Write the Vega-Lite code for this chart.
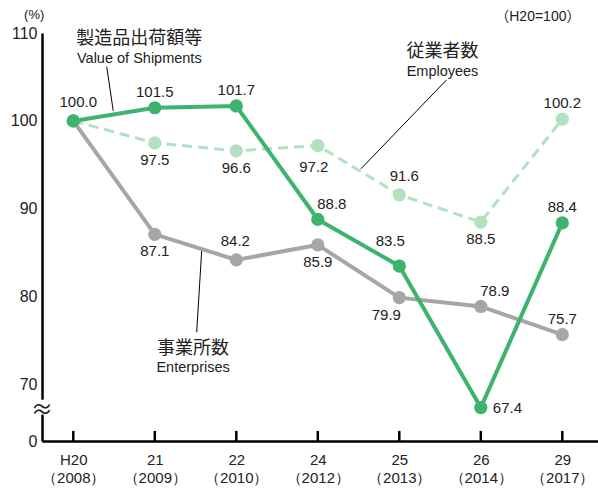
{
  "$schema": "https://vega.github.io/schema/vega-lite/v6.json",
  "width": 556,
  "height": 408,
  "autosize": {"type": "none"},
  "padding": {"left": 42, "top": 33, "right": 0, "bottom": 50},
  "background": "white",
  "config": {"view": {"stroke": null}, "font": "Liberation Sans"},
  "datasets": {
    "series": [
      {"series": "employees", "id": "emp0", "pos": 0, "value": 100.0},
      {"series": "employees", "id": "emp1", "pos": 1, "value": 97.5},
      {"series": "employees", "id": "emp2", "pos": 2, "value": 96.6},
      {"series": "employees", "id": "emp3", "pos": 3, "value": 97.2},
      {"series": "employees", "id": "emp4", "pos": 4, "value": 91.6},
      {"series": "employees", "id": "emp5", "pos": 5, "value": 88.5},
      {"series": "employees", "id": "emp6", "pos": 6, "value": 100.2},
      {"series": "enterprises", "id": "ent0", "pos": 0, "value": 100.0},
      {"series": "enterprises", "id": "ent1", "pos": 1, "value": 87.1},
      {"series": "enterprises", "id": "ent2", "pos": 2, "value": 84.2},
      {"series": "enterprises", "id": "ent3", "pos": 3, "value": 85.9},
      {"series": "enterprises", "id": "ent4", "pos": 4, "value": 79.9},
      {"series": "enterprises", "id": "ent5", "pos": 5, "value": 78.9},
      {"series": "enterprises", "id": "ent6", "pos": 6, "value": 75.7},
      {"series": "shipments", "id": "ship0", "pos": 0, "value": 100.0},
      {"series": "shipments", "id": "ship1", "pos": 1, "value": 101.5},
      {"series": "shipments", "id": "ship2", "pos": 2, "value": 101.7},
      {"series": "shipments", "id": "ship3", "pos": 3, "value": 88.8},
      {"series": "shipments", "id": "ship4", "pos": 4, "value": 83.5},
      {"series": "shipments", "id": "ship5", "pos": 5, "value": 67.4},
      {"series": "shipments", "id": "ship6", "pos": 6, "value": 88.4}
    ],
    "yticks": [
      {"value": 70}, {"value": 80}, {"value": 90}, {"value": 100}, {"value": 110}
    ],
    "axisbreak": [
      {"pos": -0.384, "value": 67.1, "top": 68.3, "bottom": 66.6}
    ],
    "notes": [
      {"kind": "jp", "pos": 0.81, "value": 109.3, "text": "製造品出荷額等"},
      {"kind": "en", "pos": 0.81, "value": 107.1, "text": "Value of Shipments"},
      {"kind": "jp", "pos": 4.53, "value": 107.8, "text": "従業者数"},
      {"kind": "en", "pos": 4.53, "value": 105.6, "text": "Employees"},
      {"kind": "jp", "pos": 1.47, "value": 74.1, "text": "事業所数"},
      {"kind": "en", "pos": 1.47, "value": 71.9, "text": "Enterprises"},
      {"kind": "unit", "pos": -0.48, "value": 112.0, "text": "(%)"},
      {"kind": "base", "pos": 5.70, "value": 111.85, "text": "（H20=100）"}
    ],
    "leaders": [
      {"name": "ship", "pos": 0.41, "value": 106.18},
      {"name": "ship", "pos": 0.49, "value": 101.16},
      {"name": "emp", "pos": 4.58, "value": 104.67},
      {"name": "emp", "pos": 3.53, "value": 94.56},
      {"name": "ent", "pos": 1.575, "value": 85.22},
      {"name": "ent", "pos": 1.514, "value": 75.97}
    ]
  },
  "encoding": {
    "x": {
      "field": "pos",
      "type": "quantitative",
      "scale": {"domain": [-0.384, 6.438], "nice": false, "zero": false},
      "axis": {
        "values": [0, 1, 2, 3, 4, 5, 6],
        "title": null,
        "grid": false,
        "zindex": 0,
        "domainColor": "black",
        "domainWidth": 2.5,
        "ticks": false,
        "labelFont": "Liberation Sans",
        "labelFontSize": 15,
        "labelColor": "#222",
        "labelLineHeight": 18,
        "labelPadding": 11,
        "labelBaseline": "top",
        "labelExpr": "[['H20','（2008）'],['21','（2009）'],['22','（2010）'],['24','（2012）'],['25','（2013）'],['26','（2014）'],['29','（2017）']][datum.value]"
      }
    },
    "y": {
      "field": "value",
      "type": "quantitative",
      "scale": {"domain": [63.6, 110], "nice": false, "zero": false},
      "axis": {
        "values": [63.6, 70, 80, 90, 100, 110],
        "title": null,
        "grid": false,
        "zindex": 0,
        "domainColor": "black",
        "domainWidth": 2.5,
        "ticks": false,
        "labelFont": "Liberation Sans",
        "labelFontSize": 16,
        "labelColor": "#222",
        "labelPadding": 5,
        "labelExpr": "datum.value < 65 ? '0' : format(datum.value, 'd')"
      }
    }
  },
  "layer": [
    {
      "mark": {"type": "rule", "color": "#777", "strokeWidth": 1.2},
      "encoding": {
        "x": {"datum": -0.384, "type": "quantitative"},
        "x2": {"datum": 6.18},
        "y": {"datum": 100, "type": "quantitative"}
      }
    },
    {
      "data": {"name": "series"},
      "transform": [{"filter": "datum.series == 'shipments'"}],
      "mark": {"type": "rule", "color": "black", "strokeWidth": 2.5},
      "encoding": {
        "y": {"datum": 63.6, "type": "quantitative"},
        "y2": {"datum": 64.75}
      }
    },
    {
      "data": {"name": "yticks"},
      "mark": {"type": "rule", "color": "black", "strokeWidth": 2.5},
      "encoding": {
        "x": {"datum": -0.384, "type": "quantitative"},
        "x2": {"datum": -0.236}
      }
    },
    {
      "data": {"name": "axisbreak"},
      "mark": {"type": "rule", "color": "white", "strokeWidth": 8},
      "encoding": {
        "y": {"field": "top", "type": "quantitative"},
        "y2": {"field": "bottom"}
      }
    },
    {
      "data": {"name": "axisbreak"},
      "mark": {"type": "text", "font": "Noto Sans CJK JP", "fontSize": 22, "color": "#222", "align": "center", "baseline": "middle", "text": "≈"}
    },
    {
      "data": {"name": "leaders"},
      "mark": {"type": "line", "color": "black", "strokeWidth": 1},
      "encoding": {"detail": {"field": "name"}}
    },
    {
      "data": {"name": "series"},
      "transform": [{"filter": "datum.series == 'employees'"}],
      "mark": {"type": "line", "color": "#b3e0bf", "strokeWidth": 3, "strokeDash": [10, 6]},
      "encoding": {}
    },
    {
      "data": {"name": "series"},
      "transform": [{"filter": "datum.series == 'enterprises'"}],
      "mark": {"type": "line", "color": "#a6a6a6", "strokeWidth": 4},
      "encoding": {}
    },
    {
      "data": {"name": "series"},
      "transform": [{"filter": "datum.series == 'shipments'"}],
      "mark": {"type": "line", "color": "#3db46e", "strokeWidth": 4},
      "encoding": {}
    },
    {
      "data": {"name": "series"},
      "mark": {"type": "circle", "size": 175, "opacity": 1},
      "encoding": {
        "color": {
          "field": "series",
          "type": "nominal",
          "scale": {"domain": ["employees", "enterprises", "shipments"], "range": ["#b3e0bf", "#a6a6a6", "#3db46e"]},
          "legend": null
        }
      }
    },
    {
      "data": {"name": "series"},
      "transform": [{"filter": "indexof(['ship1','ship2','ship6','emp6','ent6'], datum.id) >= 0"}],
      "mark": {"type": "text", "fontSize": 15, "color": "#222", "dy": -16},
      "encoding": {"text": {"field": "value", "format": ".1f"}}
    },
    {
      "data": {"name": "series"},
      "transform": [{"filter": "indexof(['ship0','emp4'], datum.id) >= 0"}],
      "mark": {"type": "text", "fontSize": 15, "color": "#222", "dx": 5, "dy": -19},
      "encoding": {"text": {"field": "value", "format": ".1f"}}
    },
    {
      "data": {"name": "series"},
      "transform": [{"filter": "datum.id == 'ent2'"}],
      "mark": {"type": "text", "fontSize": 15, "color": "#222", "dx": -1, "dy": -19},
      "encoding": {"text": {"field": "value", "format": ".1f"}}
    },
    {
      "data": {"name": "series"},
      "transform": [{"filter": "indexof(['ship3','ent5'], datum.id) >= 0"}],
      "mark": {"type": "text", "fontSize": 15, "color": "#222", "dx": 14, "dy": -15},
      "encoding": {"text": {"field": "value", "format": ".1f"}}
    },
    {
      "data": {"name": "series"},
      "transform": [{"filter": "datum.id == 'ship4'"}],
      "mark": {"type": "text", "fontSize": 15, "color": "#222", "dx": -9, "dy": -25},
      "encoding": {"text": {"field": "value", "format": ".1f"}}
    },
    {
      "data": {"name": "series"},
      "transform": [{"filter": "datum.id == 'ship5'"}],
      "mark": {"type": "text", "fontSize": 15, "color": "#222", "align": "left", "dx": 12, "dy": 0},
      "encoding": {"text": {"field": "value", "format": ".1f"}}
    },
    {
      "data": {"name": "series"},
      "transform": [{"filter": "indexof(['emp1','emp2','emp5','ent1','ent3'], datum.id) >= 0"}],
      "mark": {"type": "text", "fontSize": 15, "color": "#222", "dy": 17},
      "encoding": {"text": {"field": "value", "format": ".1f"}}
    },
    {
      "data": {"name": "series"},
      "transform": [{"filter": "datum.id == 'emp3'"}],
      "mark": {"type": "text", "fontSize": 15, "color": "#222", "dx": -4, "dy": 21},
      "encoding": {"text": {"field": "value", "format": ".1f"}}
    },
    {
      "data": {"name": "series"},
      "transform": [{"filter": "datum.id == 'ent4'"}],
      "mark": {"type": "text", "fontSize": 15, "color": "#222", "dx": -13, "dy": 17},
      "encoding": {"text": {"field": "value", "format": ".1f"}}
    },
    {
      "data": {"name": "notes"},
      "transform": [{"filter": "datum.kind == 'jp'"}],
      "mark": {"type": "text", "font": "Noto Sans CJK JP", "fontSize": 18, "color": "#222"},
      "encoding": {"text": {"field": "text"}}
    },
    {
      "data": {"name": "notes"},
      "transform": [{"filter": "datum.kind == 'en'"}],
      "mark": {"type": "text", "fontSize": 14.5, "color": "#222"},
      "encoding": {"text": {"field": "text"}}
    },
    {
      "data": {"name": "notes"},
      "transform": [{"filter": "datum.kind == 'unit'"}],
      "mark": {"type": "text", "fontSize": 13, "color": "#222"},
      "encoding": {"text": {"field": "text"}}
    },
    {
      "data": {"name": "notes"},
      "transform": [{"filter": "datum.kind == 'base'"}],
      "mark": {"type": "text", "font": "Liberation Sans, Noto Sans CJK JP", "fontSize": 14, "color": "#222"},
      "encoding": {"text": {"field": "text"}}
    }
  ]
}
